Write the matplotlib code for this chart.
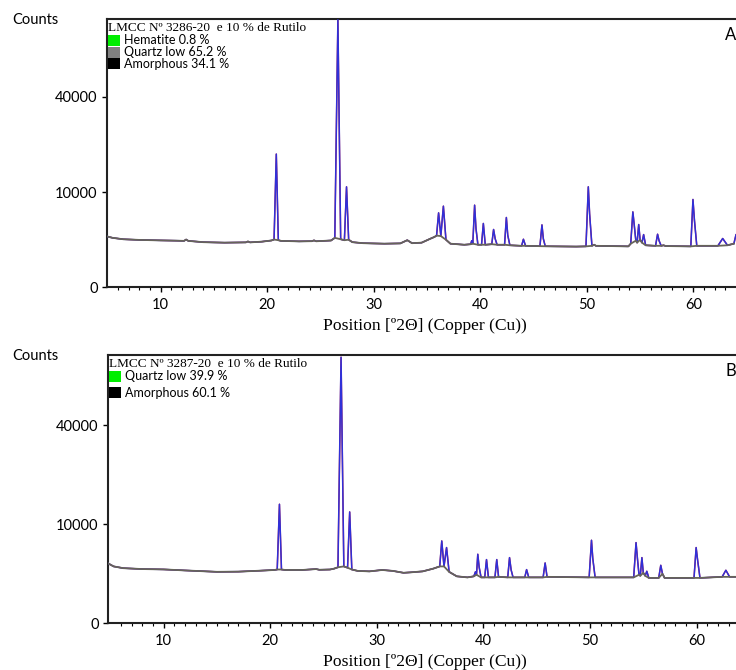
import numpy as np
import matplotlib
matplotlib.use("Agg")
import matplotlib.pyplot as plt
from matplotlib.patches import Rectangle

# Pattern A: LMCC 3286-20 (2theta, counts)
tth_A = [5.0, 5.5, 6.5, 8.0, 10.0, 11.5, 12.2, 12.4, 12.6, 14.0, 16.0, 18.0, 18.2, 18.4,
         19.5, 20.4, 20.65, 20.86, 21.05, 21.3, 23.0, 24.2, 24.4, 24.6, 26.0, 26.35, 26.64,
         26.9, 27.25, 27.45, 27.65, 28.0, 29.0, 31.0, 32.5, 33.15, 33.6, 34.5, 35.3,
         35.7, 35.9, 36.09, 36.3, 36.54, 36.78, 37.2, 38.5, 39.1, 39.2, 39.3, 39.47,
         39.6, 39.78, 40.12, 40.29, 40.47, 41.08, 41.25, 41.4, 41.58, 42.28, 42.45, 42.58,
         42.78, 43.88, 44.05, 44.25, 45.6, 45.79, 45.92, 46.1, 49.0, 49.92, 50.14, 50.26,
         50.48, 50.7, 50.85, 53.9, 54.12, 54.32, 54.45, 54.6, 54.72, 54.87, 55.0, 55.18,
         55.33, 55.52, 56.45, 56.64, 56.78, 56.98, 57.2, 57.4, 59.76, 59.96, 60.1, 60.32,
         62.3, 62.75, 63.2, 63.8, 64.0]
cnt_A = [2850, 2700, 2550, 2480, 2430, 2400, 2380, 2520, 2380, 2250, 2200, 2230, 2320, 2230,
         2300, 2420, 2520, 19600, 2450, 2380, 2330, 2350, 2430, 2340, 2420, 2700, 79000,
         2550, 2450, 11150, 2500, 2250, 2150, 2100, 2130, 2450, 2150, 2200, 2600,
         2800, 2950, 6120, 2900, 7270, 2500, 2100, 2000, 2050, 2400, 2100, 7450,
         3800, 2000, 2000, 4500, 2000, 2050, 3690, 2600, 2000, 2000, 5380, 3000,
         1950, 1900, 2550, 1900, 1870, 4300, 2600, 1860, 1830, 1850, 11150, 6000,
         1900, 2000, 1900, 1850, 2100, 6280, 4300, 2400, 2200, 4350, 2500, 2200,
         3070, 1950, 1900, 3110, 2400, 1900, 1950, 1880, 1850, 8520, 4970, 1900,
         1900, 2630, 1950, 2100, 3050]
# peak tops and shoulders drawn in blue, the rest is background
peaks_A = [20.86, 26.64, 27.45, 36.09, 36.54, 39.2, 39.47, 39.6, 40.29, 41.25, 41.4,
           42.45, 42.58, 44.05, 45.79, 45.92, 50.14, 50.26, 54.32, 54.45, 54.87, 55.33,
           56.64, 56.78, 59.96, 60.1, 62.75, 64.0]

# Pattern B: LMCC 3287-20
tth_B = [4.8, 5.3, 6.2, 8.0, 10.0, 12.0, 15.0, 17.0, 19.0, 20.4, 20.65, 20.86, 21.05, 21.4,
         23.0, 24.3, 24.6, 25.6, 26.0, 26.35, 26.64, 26.9, 27.25, 27.45, 27.65, 28.2, 29.3,
         30.5, 31.5, 32.5, 33.2, 34.3, 35.3, 35.9, 36.09, 36.3, 36.54, 36.78, 37.5, 38.5,
         39.1, 39.25, 39.35, 39.47, 39.6, 39.78, 40.12, 40.29, 40.47, 41.08, 41.25, 41.42,
         42.28, 42.45, 42.6, 42.78, 43.88, 44.05, 44.25, 45.6, 45.79, 45.97, 49.92, 50.14,
         50.26, 50.48, 54.1, 54.32, 54.45, 54.6, 54.72, 54.87, 55.0, 55.18, 55.33, 55.52,
         56.45, 56.64, 56.8, 57.0, 59.76, 59.96, 60.1, 60.32, 62.4, 62.75, 63.1, 63.7]
cnt_B = [3650, 3300, 3100, 3000, 2960, 2850, 2700, 2720, 2820, 2900, 2950, 14450, 2950, 2900,
         2900, 3000, 2920, 2950, 3050, 3200, 72200, 3300, 3150, 12640, 2950, 2800, 2750,
         2900, 2800, 2600, 2650, 2750, 3050, 3300, 6910, 3300, 5850, 2700, 2250, 2150,
         2250, 2700, 2400, 4860, 3200, 2150, 2150, 4140, 2150, 2150, 4140, 2200,
         2150, 4400, 2900, 2150, 2150, 2940, 2150, 2150, 3710, 2200, 2150, 7030,
         4300, 2150, 2150, 6640, 4300, 2400, 2300, 4400, 2600, 2300, 2760, 2100,
         2100, 3430, 2500, 2100, 2100, 5850, 4050, 2100, 2200, 2870, 2200, 2200]
peaks_B = [20.86, 26.64, 27.45, 36.09, 36.54, 39.25, 39.47, 39.6, 40.29, 41.25, 42.45,
           42.6, 44.05, 45.79, 50.14, 50.26, 54.32, 54.45, 54.87, 55.33, 56.64, 59.96,
           60.1, 62.75]

yticks = [0, 10000, 40000]

panels = [
    dict(x=tth_A, y=cnt_A, peaks=peaks_A, xlim=(5.0, 64.0), ymax=79500,
         title="LMCC Nº 3286-20  e 10 % de Rutilo", tag="A",
         phases=[("Hematite 0.8 %", "#00ee00"), ("Quartz low 65.2 %", "#808080"),
                 ("Amorphous 34.1 %", "#000000")]),
    dict(x=tth_B, y=cnt_B, peaks=peaks_B, xlim=(4.8, 63.7), ymax=73400,
         title="LMCC Nº 3287-20  e 10 % de Rutilo", tag="B",
         phases=[("Quartz low 39.9 %", "#00ee00"), ("Amorphous 60.1 %", "#000000")]),
]

W, H = 736, 670
fig = plt.figure(figsize=(W / 100, H / 100), dpi=100)
sans = "Lato"
serif = "Liberation Serif"


def fx(px):
    return px / W


def fy(py):
    return 1 - py / H


# axes boxes in pixels: left, top, bottom
boxes = [(107.3, 19.0, 287.3), (108.3, 355.0, 623.3)]

for p, (left, top, bottom) in zip(panels, boxes):
    ax = fig.add_axes([fx(left), fy(bottom), 1 - fx(left), (bottom - top) / H])
    ax.set_yscale("function", functions=(lambda v: np.sqrt(np.clip(v, 0, None)), np.square))
    x = np.array(p["x"])
    y = np.array(p["y"])
    bg = ~np.isin(x, p["peaks"])
    ax.plot(x, y, color="#e02020", lw=1.0, zorder=2)
    ax.plot(x, y, color="#3030d8", lw=1.1, zorder=3)
    ax.plot(x[bg], y[bg], color="#66645a", lw=1.3, zorder=4)
    ax.set_xlim(*p["xlim"])
    ax.set_ylim(0, p["ymax"])
    ax.set_yticks(yticks)
    ax.set_yticklabels([str(t) for t in yticks], fontfamily=sans, fontsize=10.5)
    ax.set_xticks([10, 20, 30, 40, 50, 60])
    ax.set_xticks(np.arange(6, 64, 1), minor=True)
    for lab in ax.get_xticklabels():
        lab.set_fontfamily(sans)
        lab.set_fontsize(10.5)
    ax.tick_params(axis="x", which="major", direction="out", length=3.5, width=1, pad=4.5)
    ax.tick_params(axis="x", which="minor", direction="out", length=2, width=0.8)
    ax.tick_params(axis="y", which="major", direction="out", length=3.5, width=1, pad=3.5)
    ax.tick_params(axis="y", which="minor", left=False)
    ax.spines["right"].set_visible(False)
    for s in ("left", "bottom", "top"):
        ax.spines[s].set_linewidth(1.5)
        ax.spines[s].set_color("#222222")

    # header and phase legend
    fig.text(fx(left + 1), fy(top + 9), p["title"], fontfamily=serif, fontsize=9.5,
             ha="left", va="center")
    for i, (label, col) in enumerate(p["phases"]):
        yc = top + 21.5 + i * (11.5 if p["tag"] == "A" else 16.5)
        fig.add_artist(Rectangle((fx(left + 1), fy(yc + 5.5)), 12 / W, 11 / H,
                                 transform=fig.transFigure, color=col, lw=0))
        fig.text(fx(left + 17), fy(yc), label, fontfamily=sans, fontsize=9,
                 ha="left", va="center")

    fig.text(fx(12), fy(top + 1), "Counts", fontfamily=sans, fontsize=10.5,
             ha="left", va="center")
    fig.text(fx(731), fy(top + 16), p["tag"], fontfamily=sans, fontsize=12,
             ha="center", va="center")
    fig.text(fx(425), fy(bottom + 39), "Position [º2Θ] (Copper (Cu))", fontfamily=serif,
             fontsize=12.6, ha="center", va="center")

fig.savefig("out.png", dpi=100)
